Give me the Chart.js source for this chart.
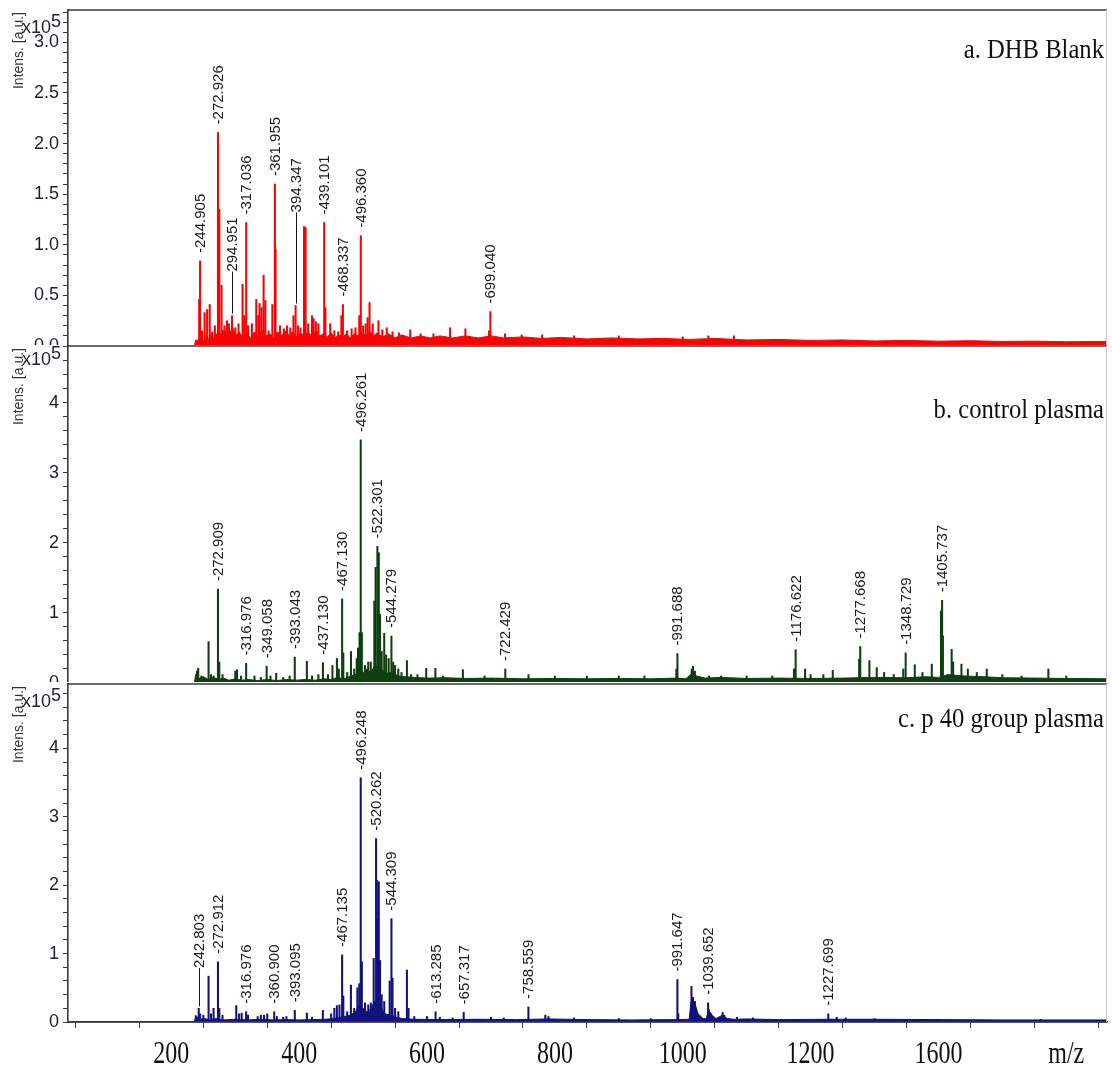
<!DOCTYPE html>
<html>
<head>
<meta charset="utf-8">
<title>MALDI spectra</title>
<script src="https://cdn.jsdelivr.net/npm/chart.js@4.4.1/dist/chart.umd.min.js"></script>
<style>
  html, body { margin: 0; padding: 0; background: #fff; }
  #stack { position: relative; width: 1112px; height: 1072px; overflow: hidden; }
  #stack canvas { position: absolute; left: 0; background: #fff; }
</style>
</head>
<body>
<div id="stack">
  <canvas id="specA" width="1112" height="360" style="top:0"></canvas>
  <canvas id="specB" width="1112" height="352" style="top:345px"></canvas>
  <canvas id="specC" width="1112" height="390" style="top:682px"></canvas>
</div>
<script>
// ── shared m/z axis ─────────────────────────────────────────────────────────
const MZ_MIN = 38.3;
const MZ_MAX = 1663.7;
const mzTicks    = [100, 200, 300, 400, 500, 600, 700, 800, 900, 1000, 1100, 1200, 1300, 1400, 1500, 1600];
const mzTickText = ['', '200', '', '400', '', '600', '', '800', '', '1000', '', '1200', '', '1600', '', 'm/z'];

// intensity tick labels (x10^5)
const blankYLabels  = ['0.0', '0.5', '1.0', '1.5', '2.0', '2.5', '3.0'];
const plasmaYLabels = ['0', '1', '2', '3', '4'];

// ── a. DHB Blank ────────────────────────────────────────────────────────────
const blankLabelMz  = [244.905, 272.926, 294.951, 317.036, 361.955, 394.347, 439.101, 468.337, 496.360, 699.040];
const blankLabelInt = [0.84, 2.11, 0.30, 1.22, 1.60, 0.40, 1.22, 0.41, 1.09, 0.34];
const blankLeaderTo = [0, 0, 0.735, 0, 0, 1.32, 0, 0, 0, 0];
const blankPeakMz  = [243.5, 248, 252, 256, 260, 264, 268, 275, 278.5, 283, 287, 290, 300, 305, 311.4, 314, 320, 326,
  332.8, 336, 338, 341, 344.3, 347, 352, 358, 363, 370, 376, 381, 386, 391, 398, 402, 407.5, 410, 414, 420, 422.5,
  426, 430, 441, 448.5, 455, 461, 466, 475, 482, 488, 494, 500, 504, 507, 510, 515, 524, 530, 537, 546, 556, 573.7,
  590, 610, 636, 660, 697, 722, 748, 780, 830, 900, 1000, 1040, 1080];
const blankPeakInt = [0.46, 0.15, 0.33, 0.36, 0.41, 0.14, 0.20, 1.35, 0.60, 0.20, 0.25, 0.22, 0.18, 0.22, 0.61, 0.30, 0.20, 0.22,
  0.46, 0.30, 0.42, 0.38, 0.70, 0.45, 0.15, 0.41, 0.96, 0.20, 0.17, 0.20, 0.18, 0.30, 0.20, 0.18, 1.18, 1.17, 0.22, 0.30, 0.27,
  0.24, 0.22, 0.38, 0.22, 0.15, 0.14, 0.30, 0.15, 0.17, 0.18, 0.30, 0.20, 0.22, 0.28, 0.43, 0.22, 0.25, 0.16, 0.18, 0.14, 0.13, 0.16,
  0.12, 0.12, 0.18, 0.17, 0.15, 0.12, 0.11, 0.11, 0.10, 0.10, 0.09, 0.10, 0.10];
const blankFloorMz  = [236, 238, 242, 246, 250, 254, 258, 262, 266, 270, 276, 280, 284, 288, 292, 296, 300, 306, 312, 318,
  324, 330, 336, 342, 348, 354, 360, 366, 372, 378, 384, 390, 396, 402, 408, 414, 420, 426, 432, 438, 444, 450, 456, 462,
  468, 474, 480, 486, 492, 498, 504, 510, 516, 522, 530, 540, 550, 560, 575, 590, 605, 620, 640, 660, 680, 700, 720, 750,
  780, 810, 850, 890, 930, 970, 1010, 1050, 1100, 1150, 1200, 1250, 1300, 1350, 1400, 1450, 1500, 1550, 1600, 1664];
const blankFloorInt = [0, 0.06, 0.05, 0.09, 0.05, 0.10, 0.06, 0.12, 0.08, 0.12, 0.10, 0.16, 0.12, 0.20, 0.14, 0.18, 0.10, 0.14, 0.08, 0.12,
  0.08, 0.14, 0.09, 0.16, 0.10, 0.12, 0.08, 0.14, 0.10, 0.15, 0.11, 0.14, 0.09, 0.13, 0.10, 0.14, 0.09, 0.15, 0.10, 0.12, 0.09, 0.13, 0.08, 0.11,
  0.09, 0.12, 0.08, 0.12, 0.10, 0.14, 0.10, 0.15, 0.10, 0.13, 0.09, 0.12, 0.08, 0.11, 0.08, 0.10, 0.08, 0.10, 0.08, 0.10, 0.08, 0.10, 0.08, 0.09,
  0.075, 0.085, 0.07, 0.08, 0.07, 0.075, 0.065, 0.075, 0.06, 0.065, 0.055, 0.06, 0.05, 0.055, 0.048, 0.052, 0.045, 0.048, 0.042, 0.045];

// ── b. control plasma ───────────────────────────────────────────────────────
const controlLabelMz  = [272.909, 316.976, 349.058, 393.043, 437.130, 467.130, 496.261, 522.301, 544.279, 722.429,
  991.688, 1176.622, 1277.668, 1348.729, 1405.737];
const controlLabelInt = [1.34, 0.28, 0.24, 0.37, 0.29, 1.20, 3.47, 1.95, 0.67, 0.20, 0.42, 0.475, 0.52, 0.43, 1.18];
const controlLeaderTo = [0, 0, 0, 0, 0, 0, 0, 0, 0, 0, 0, 0, 0, 0, 0];
const controlPeakMz  = [240, 242, 247, 258.2, 262, 266, 275, 280, 300, 302.6, 309, 330, 340, 355, 364, 375, 385, 412, 420, 430,
  445, 452, 459, 462, 469, 475, 481, 486, 490, 492, 494.4, 498, 503, 508, 512, 517.5, 519.5, 524.5, 526.5, 529, 533, 536, 540,
  547, 550, 555, 560, 568.5, 575, 585, 598.7, 613, 625, 656, 690, 758.7, 800, 850, 900, 940, 990, 1014, 1016, 1019, 1041, 1060,
  1100, 1140, 1174, 1191.4, 1200, 1220, 1234.7, 1276, 1292, 1303.5, 1315, 1330, 1345, 1363, 1375, 1389.6, 1404, 1407, 1420.7,
  1423, 1436, 1446, 1460, 1475.6, 1500, 1530, 1572, 1600];
const controlPeakInt = [0.17, 0.21, 0.10, 0.59, 0.12, 0.10, 0.30, 0.12, 0.17, 0.19, 0.10, 0.10, 0.08, 0.10, 0.14, 0.08, 0.10, 0.31, 0.10, 0.12,
  0.12, 0.25, 0.35, 0.20, 0.43, 0.15, 0.45, 0.20, 0.35, 0.50, 0.72, 0.72, 0.25, 0.30, 0.30, 1.17, 1.65, 1.86, 0.98, 0.45, 0.71, 0.40, 0.35,
  0.30, 0.25, 0.20, 0.15, 0.32, 0.12, 0.12, 0.21, 0.21, 0.10, 0.19, 0.10, 0.12, 0.10, 0.10, 0.10, 0.10, 0.20, 0.20, 0.24, 0.17, 0.10, 0.10,
  0.10, 0.10, 0.20, 0.20, 0.12, 0.12, 0.18, 0.34, 0.32, 0.22, 0.15, 0.12, 0.20, 0.26, 0.15, 0.27, 1.03, 0.67, 0.48,
  0.30, 0.27, 0.20, 0.15, 0.20, 0.12, 0.10, 0.20, 0.10];
const controlFloorMz  = [236, 238, 242, 250, 258, 266, 274, 282, 290, 300, 310, 320, 335, 350, 365, 380, 395, 410, 425, 440, 450,
  460, 470, 480, 488, 494, 500, 506, 512, 518, 528, 536, 545, 555, 565, 580, 600, 630, 660, 700, 750, 800, 850, 900, 950, 990,
  1005, 1012, 1022, 1035, 1060, 1100, 1150, 1200, 1250, 1300, 1350, 1380, 1400, 1415, 1440, 1470, 1500, 1550, 1600, 1664];
const controlFloorInt = [0, 0.12, 0.06, 0.09, 0.05, 0.08, 0.05, 0.07, 0.04, 0.06, 0.04, 0.05, 0.035, 0.05, 0.035, 0.05, 0.04, 0.05, 0.04, 0.06, 0.05,
  0.08, 0.06, 0.10, 0.12, 0.20, 0.15, 0.20, 0.15, 0.25, 0.20, 0.14, 0.15, 0.10, 0.09, 0.08, 0.07, 0.075, 0.065, 0.07, 0.06, 0.065, 0.06, 0.065, 0.06, 0.07,
  0.06, 0.12, 0.10, 0.07, 0.08, 0.065, 0.07, 0.065, 0.07, 0.08, 0.075, 0.09, 0.08, 0.12, 0.10, 0.09, 0.075, 0.07, 0.065, 0.06];

// ── c. p 40 group plasma ────────────────────────────────────────────────────
const p40LabelMz  = [242.803, 272.912, 316.976, 360.900, 393.095, 467.135, 496.248, 520.262, 544.309, 613.285, 657.317,
  758.559, 991.647, 1039.652, 1227.699];
const p40LabelInt = [0.20, 0.88, 0.15, 0.15, 0.17, 0.98, 3.57, 2.68, 1.51, 0.15, 0.14, 0.22, 0.62, 0.28, 0.12];
const p40LeaderTo = [0.79, 0, 0, 0, 0, 0, 0, 0, 0, 0, 0, 0, 0, 0, 0];
const p40PeakMz  = [245, 250, 258.2, 262, 266, 275, 280, 301.5, 306, 310, 320, 335, 340, 345, 350, 365, 375, 380, 412, 420, 437,
  450, 455, 459, 463, 469, 475, 480.9, 486, 491, 494, 498, 503, 508, 512, 516.5, 521.5, 522.5, 524.5, 526.5, 529, 533, 541.5, 546,
  550, 555, 568.5, 571, 580, 600, 620, 640, 700, 720, 785, 790, 830, 900, 950, 993, 1013.6, 1016, 1019, 1041, 1044, 1062.4, 1065,
  1085, 1110, 1241, 1255, 1300, 1400, 1560];
const p40PeakInt = [0.12, 0.10, 0.67, 0.12, 0.20, 0.20, 0.10, 0.24, 0.12, 0.13, 0.10, 0.08, 0.10, 0.10, 0.12, 0.08, 0.07, 0.08, 0.13, 0.07, 0.17,
  0.12, 0.20, 0.24, 0.25, 0.38, 0.15, 0.54, 0.20, 0.50, 0.56, 0.88, 0.28, 0.25, 0.28, 0.93, 2.07, 1.50, 2.05, 0.90, 0.40, 0.30, 0.60, 0.64,
  0.20, 0.15, 0.76, 0.20, 0.08, 0.08, 0.07, 0.06, 0.07, 0.06, 0.10, 0.08, 0.06, 0.05, 0.05, 0.12, 0.52, 0.36, 0.30, 0.18, 0.12, 0.14, 0.10,
  0.07, 0.06, 0.07, 0.06, 0.05, 0.04, 0.04];
const p40FloorMz  = [236, 238, 244, 252, 260, 270, 280, 300, 320, 340, 360, 380, 400, 420, 440, 455, 470, 480, 488, 494, 500, 506,
  512, 518, 526, 534, 544, 552, 562, 580, 620, 680, 740, 790, 850, 920, 990, 1010, 1013, 1018, 1024, 1032, 1037, 1040, 1046,
  1052, 1062, 1070, 1080, 1100, 1150, 1230, 1300, 1400, 1500, 1600, 1664];
const p40FloorInt = [0, 0.10, 0.04, 0.05, 0.03, 0.05, 0.03, 0.04, 0.03, 0.04, 0.03, 0.035, 0.03, 0.035, 0.04, 0.05, 0.08, 0.10, 0.15, 0.25, 0.20, 0.15,
  0.20, 0.30, 0.25, 0.12, 0.10, 0.07, 0.05, 0.04, 0.035, 0.04, 0.035, 0.045, 0.035, 0.03, 0.035, 0.04, 0.30, 0.30, 0.12, 0.05, 0.05, 0.18, 0.10,
  0.05, 0.10, 0.05, 0.04, 0.045, 0.035, 0.04, 0.04, 0.035, 0.03, 0.03, 0.03];

// ── panel setup ─────────────────────────────────────────────────────────────
const panels = [
  { id: 'specA', title: 'a. DHB Blank', titleDy: 48, color: '#ff0000', yMax: 3.32, yStep: 0.1, yLabels: blankYLabels,
    labelMz: blankLabelMz, labelInt: blankLabelInt, leaderTo: blankLeaderTo,
    peakMz: blankPeakMz, peakInt: blankPeakInt, floorMz: blankFloorMz, floorInt: blankFloorInt,
    pad: { top: 10, bottom: 14 }, showX: false, expDy: 23 },
  { id: 'specB', title: 'b. control plasma', titleDy: 72, color: '#0f3f0f', yMax: 4.81, yStep: 0.2, yLabels: plasmaYLabels,
    labelMz: controlLabelMz, labelInt: controlLabelInt, leaderTo: controlLeaderTo,
    peakMz: controlPeakMz, peakInt: controlPeakInt, floorMz: controlFloorMz, floorInt: controlFloorInt,
    pad: { top: 1, bottom: 14 }, showX: false, expDy: 19 },
  { id: 'specC', title: 'c. p 40 group plasma', titleDy: 43, color: '#12127e', yMax: 4.94, yStep: 0.2, yLabels: plasmaYLabels,
    labelMz: p40LabelMz, labelInt: p40LabelInt, leaderTo: p40LeaderTo,
    peakMz: p40PeakMz, peakInt: p40PeakInt, floorMz: p40FloorMz, floorInt: p40FloorInt,
    pad: { top: 2, bottom: 0 }, showX: true, expDy: 23 }
];

const AXIS_INK = '#3a3a3a';
const TICK_FONT = { family: '"Liberation Sans", Arial, sans-serif', size: 18 };

// frame, peak annotations, titles and axis captions
const spectrumDecor = {
  id: 'spectrumDecor',
  afterDatasetsDraw(chart) {
    const p = chart.options.plugins.spectrumDecor.panel;
    const { ctx, chartArea: a } = chart;
    const xs = chart.scales.x, ys = chart.scales.y;

    ctx.save();
    // frame: dark top/bottom, pale right edge
    ctx.strokeStyle = AXIS_INK;
    ctx.lineWidth = 1.6;
    ctx.beginPath();
    ctx.moveTo(a.left, a.top); ctx.lineTo(a.right, a.top);
    ctx.moveTo(a.left, a.bottom); ctx.lineTo(a.right, a.bottom);
    ctx.stroke();
    ctx.strokeStyle = '#c8c8c8';
    ctx.lineWidth = 1;
    ctx.beginPath();
    ctx.moveTo(a.right - 0.5, a.top); ctx.lineTo(a.right - 0.5, a.bottom);
    ctx.stroke();

    // peak m/z annotations, rotated
    ctx.font = '15px "Liberation Sans", Arial, sans-serif';
    ctx.fillStyle = '#1a1a1a';
    ctx.textBaseline = 'middle';
    ctx.textAlign = 'left';
    p.labelMz.forEach((mz, i) => {
      const x = Math.round(xs.getPixelForValue(mz)) + 0.5;
      const yTop = ys.getPixelForValue(p.labelInt[i]);
      let yText = yTop - 8;
      let text = '-' + mz.toFixed(3);
      if (p.leaderTo[i]) {
        yText = ys.getPixelForValue(p.leaderTo[i]);
        ctx.strokeStyle = '#111';
        ctx.lineWidth = 1;
        ctx.beginPath();
        ctx.moveTo(x, yTop - 2);
        ctx.lineTo(x, yText);
        ctx.stroke();
        text = mz.toFixed(3);
      }
      ctx.save();
      ctx.translate(x, yText);
      ctx.rotate(-Math.PI / 2);
      ctx.fillText(text, 0, 0);
      ctx.restore();
    });
    ctx.restore();
  },
  afterDraw(chart) {
    const p = chart.options.plugins.spectrumDecor.panel;
    const { ctx, chartArea: a } = chart;
    ctx.save();

    // sample title, narrow serif
    ctx.fillStyle = '#111';
    ctx.font = '28px "Liberation Serif", "Times New Roman", serif';
    ctx.textAlign = 'right';
    ctx.textBaseline = 'alphabetic';
    ctx.save();
    ctx.translate(a.right - 3, a.top + p.titleDy);
    ctx.scale(0.88, 1);
    ctx.fillText(p.title, 0, 0);
    ctx.restore();

    // axis caption + exponent
    ctx.fillStyle = '#333';
    ctx.font = '14px "Liberation Sans", Arial, sans-serif';
    ctx.textBaseline = 'middle';
    ctx.save();
    ctx.translate(19, a.top + 2);
    ctx.rotate(-Math.PI / 2);
    ctx.fillText('Intens. [a.u.]', 0, 0);
    ctx.restore();

    ctx.fillStyle = '#1e1e2e';
    ctx.textAlign = 'left';
    ctx.textBaseline = 'alphabetic';
    ctx.font = '18px "Liberation Sans", Arial, sans-serif';
    ctx.fillText('x10', 22, a.top + p.expDy);
    const w = ctx.measureText('x10').width;
    ctx.fillText('5', 22 + w, a.top + p.expDy - 6);

    // m/z tick text under the bottom panel
    if (p.showX) {
      const xs = chart.scales.x;
      ctx.fillStyle = '#111';
      ctx.font = '32px "Liberation Serif", "Times New Roman", serif';
      ctx.textAlign = 'center';
      mzTicks.forEach((v, i) => {
        if (!mzTickText[i]) return;
        ctx.save();
        ctx.translate(xs.getPixelForValue(v), a.bottom + 41);
        ctx.scale(0.75, 1);
        ctx.fillText(mzTickText[i], 0, 0);
        ctx.restore();
      });
    }
    ctx.restore();
  }
};

function buildPanel(p) {
  const floor = p.floorMz.map((m, i) => ({ x: m, y: p.floorInt[i] }));
  const peaks = p.labelMz.map((m, i) => ({ x: m, y: p.labelInt[i] }))
    .concat(p.peakMz.map((m, i) => ({ x: m, y: p.peakInt[i] })));
  const steps = Math.round(p.yMax / p.yStep);

  return new Chart(document.getElementById(p.id), {
    type: 'line',
    data: {
      datasets: [
        { type: 'line', data: floor, borderColor: p.color, backgroundColor: p.color, borderWidth: 1,
          fill: 'origin', pointRadius: 0, tension: 0 },
        { type: 'bar', data: peaks, backgroundColor: p.color, borderWidth: 0, barThickness: 1.4 }
      ]
    },
    options: {
      responsive: false,
      animation: false,
      events: [],
      layout: { padding: { top: p.pad.top, bottom: p.pad.bottom, left: 0, right: 5 } },
      plugins: {
        legend: { display: false },
        tooltip: { enabled: false },
        spectrumDecor: { panel: p }
      },
      scales: {
        x: {
          type: 'linear', min: MZ_MIN, max: MZ_MAX, offset: false, display: p.showX,
          afterBuildTicks: s => { s.ticks = mzTicks.map(v => ({ value: v })); },
          afterFit: s => {
            if (p.showX) s.height = 50;
            s.paddingLeft = 0; s.paddingRight = 0;
          },
          grid: { drawOnChartArea: false, drawTicks: true, tickLength: 6, color: AXIS_INK, lineWidth: 1 },
          border: { display: true, color: AXIS_INK, width: 1.6 },
          ticks: { display: false, autoSkip: false }
        },
        y: {
          type: 'linear', min: 0, max: p.yMax,
          afterBuildTicks: s => {
            const t = [];
            for (let i = 0; i <= steps; i++) t.push({ value: Math.round(i * p.yStep * 10) / 10 });
            s.ticks = t;
          },
          // fixed gutter; tick text may spill past the plot edge
          afterFit: s => { s.width = 68; s.paddingTop = 0; s.paddingBottom = 0; },
          grid: { drawOnChartArea: false, drawTicks: true, tickLength: 5, color: AXIS_INK, lineWidth: 1 },
          border: { display: true, color: AXIS_INK, width: 1.6 },
          ticks: {
            autoSkip: false, padding: 4, color: '#1e1e2e', font: TICK_FONT,
            callback: v => p.yLabels.find(l => Math.abs(parseFloat(l) - v) < 1e-6) || ''
          }
        }
      }
    },
    plugins: [spectrumDecor]
  });
}

panels.forEach(buildPanel);
</script>
</body>
</html>
